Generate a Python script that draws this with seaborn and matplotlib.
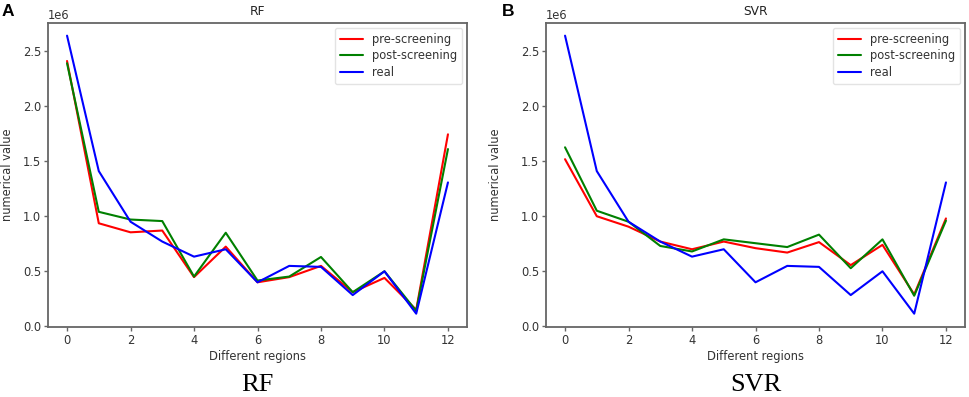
import matplotlib
matplotlib.use("Agg")
import matplotlib.pyplot as plt
import seaborn as sns
import pandas as pd

regions = list(range(13))
rf_pre = [2.41, 0.936, 0.854, 0.87, 0.447, 0.724, 0.40, 0.447, 0.549, 0.31, 0.44, 0.15, 1.744]
rf_post = [2.39, 1.04, 0.97, 0.956, 0.452, 0.85, 0.416, 0.452, 0.63, 0.31, 0.50, 0.14, 1.61]
real = [2.64, 1.41, 0.95, 0.77, 0.633, 0.70, 0.40, 0.549, 0.54, 0.284, 0.50, 0.115, 1.307]
svr_pre = [1.518, 1.0, 0.905, 0.77, 0.70, 0.77, 0.71, 0.67, 0.765, 0.556, 0.74, 0.29, 0.98]
svr_post = [1.626, 1.05, 0.95, 0.73, 0.68, 0.79, 0.755, 0.72, 0.833, 0.528, 0.79, 0.278, 0.96]
series_names = ["pre-screening", "post-screening", "real"]
panel_titles = ["RF", "SVR"]
panel_letters = ["A", "B"]

sns.set_style("ticks")
plt.rcParams["font.family"] = ["DejaVu Sans"]

txt = "#333333"
spine = "#666666"
fs = 8.3

fig = plt.figure(figsize=(9.69, 3.97), dpi=100)
lefts = [48 / 969, 546 / 969]
w = 419 / 969
b = 70 / 397
h = 304 / 397
ylab_x = [-0.082, -0.105]

data_sets = [(rf_pre, rf_post, real), (svr_pre, svr_post, real)]
palette = {"pre-screening": "#ff0000", "post-screening": "#008000", "real": "#0000ff"}

for i, (left, ds) in enumerate(zip(lefts, data_sets)):
    ax = fig.add_axes([left, b, w, h])
    rows = []
    for name, vals in zip(series_names, ds):
        for x, v in zip(regions, vals):
            rows.append({"region": x, "value": v * 1e6, "series": name})
    df = pd.DataFrame(rows)
    sns.lineplot(data=df, x="region", y="value", hue="series", palette=palette,
                 hue_order=series_names, ax=ax, linewidth=1.5, estimator=None)
    ax.set_xticks([0, 2, 4, 6, 8, 10, 12])
    ax.set_yticks([0, 0.5e6, 1.0e6, 1.5e6, 2.0e6, 2.5e6])
    ax.set_ylim(-0.006e6, 2.755e6)
    ax.set_xlim(-0.6, 12.6)
    ax.set_xlabel("Different regions", fontsize=fs, color=txt, labelpad=2)
    ax.set_ylabel("numerical value", fontsize=fs, color=txt)
    ax.yaxis.set_label_coords(ylab_x[i], 0.5)
    ax.set_title(panel_titles[i], fontsize=fs + 0.5, color="#222222", pad=6)
    ax.tick_params(labelsize=fs, colors=txt, length=3, width=1, color=spine, pad=2)
    ax.yaxis.get_offset_text().set_fontsize(fs)
    ax.yaxis.get_offset_text().set_color(txt)
    for s in ax.spines.values():
        s.set_color(spine)
        s.set_linewidth(1.3)
    leg = ax.legend(loc="upper right", fontsize=fs, frameon=True, handlelength=2.0,
                    borderpad=0.45, labelspacing=0.3, borderaxespad=0.4)
    for t in leg.get_texts():
        t.set_color(txt)
    leg.get_frame().set_edgecolor("#dddddd")
    fig.text(left + w / 2, 12 / 397, panel_titles[i], ha="center", va="center",
             fontsize=19, family="Liberation Serif", color="black")
    fig.text(2 / 969 if i == 0 else 502 / 969, 1 - 12 / 397, panel_letters[i],
             ha="left", va="center", fontsize=12.5, fontweight="bold",
             family="Liberation Sans", color="black")

fig.savefig("out.png", dpi=100)
